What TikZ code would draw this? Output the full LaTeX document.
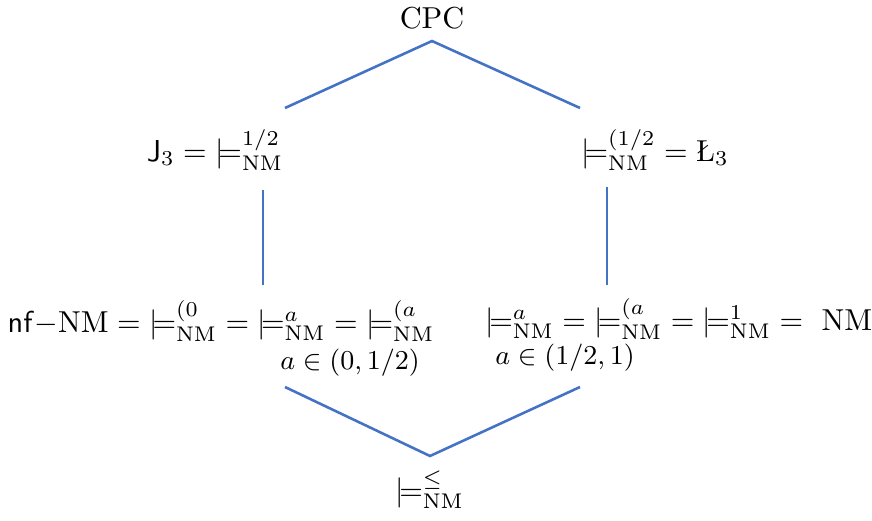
\documentclass[tikz,border=0pt]{standalone}
\usepackage{amsmath}
\definecolor{linkblue}{RGB}{68,114,196}
\newcommand{\nmsat}[1]{{\models^{#1}_{\mathrm{NM}}}}
\tikzstyle{logic}=[inner sep=0pt]
\tikzstyle{cond}=[inner sep=0pt,font=\small]
\tikzstyle{link} = [draw=linkblue,line width=0.85pt]

\begin{document}
\begin{tikzpicture}[x=0.33pt,y=-0.33pt]
\useasboundingbox (0,0) rectangle (872,521);
\node[logic] (cpc) at (432,18) {CPC};
\node[logic] (jthree) at (215,150) {$\mathsf{J}_3 = \nmsat{1/2}$};
\node[logic] (lthree) at (655,150) {$\nmsat{(1/2} = \text{\L}_3$};
\node[logic] (nfnm) at (221,321) {$\mathsf{nf}{-}\mathrm{NM} = \nmsat{(0} = \nmsat{a} = \nmsat{(a}$};
\node[logic] (nm) at (679,319) {$\nmsat{a} = \nmsat{(a} = \nmsat{1} =\ \mathrm{NM}$};
\node[cond] (lowcond) at (350,363) {$a\in(0,1/2)$};
\node[cond] (highcond) at (565,358) {$a\in(1/2,1)$};
\node[logic] (leq) at (430,490) {$\nmsat{\leq}$};
% corners of the lines
\coordinate (tl) at (285,108);
\coordinate (tv) at (432,41);
\coordinate (tr) at (580,108);
\coordinate (ml1) at (263,190);
\coordinate (ml2) at (263,285);
\coordinate (mr1) at (607,187);
\coordinate (mr2) at (607,285);
\coordinate (bl) at (285,387);
\coordinate (bv) at (430,456);
\coordinate (br) at (580,387);
\draw[link] (tl) -- (tv) -- (tr);
\draw[link] (ml1) -- (ml2);
\draw[link] (mr1) -- (mr2);
\draw[link] (bl) -- (bv) -- (br);
\end{tikzpicture}
\end{document}
